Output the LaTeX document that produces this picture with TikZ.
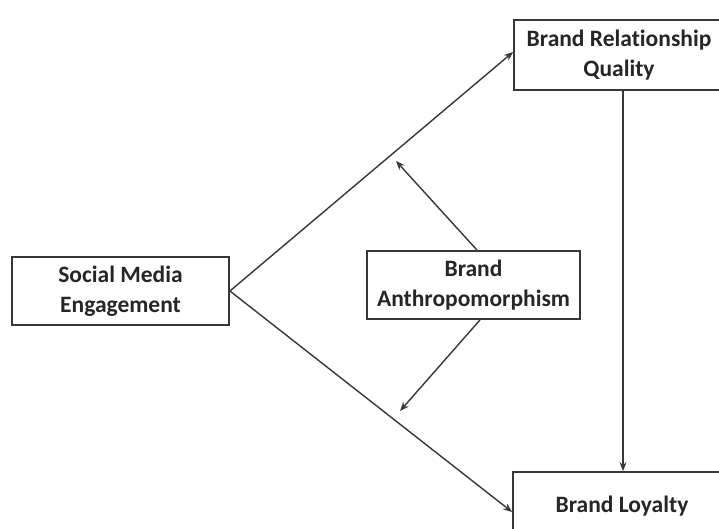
\documentclass[tikz,border=0pt]{standalone}
\usepackage{fontspec}
\setmainfont{Carlito}[Ligatures=NoCommon]
\usepackage{xcolor}
\usepackage{tikz}
\usetikzlibrary{arrows.meta}

\definecolor{inkgray}{RGB}{55,55,55}
\tikzset{
  varbox/.style={draw=inkgray, line width=1.8pt, fill=white, align=center, font=\bfseries\fontsize{23.5}{30.5}\selectfont, text=black!85, inner sep=0pt},
  link/.style={draw=inkgray, line width=1.4pt, -{Stealth[length=9pt,width=7pt]}}
}

\begin{document}
\begin{tikzpicture}[x=1pt,y=-1pt]
\useasboundingbox (0,0) rectangle (719,529);
\node[varbox, minimum width=217pt, minimum height=68pt] (sme) at (120.5,291) {Social Media\\Engagement};
\node[varbox, minimum width=213pt, minimum height=68pt] (anthro) at (473.5,285) {Brand\\Anthropomorphism};
\node[varbox, minimum width=210pt, minimum height=70pt] (quality) at (619,55) {Brand Relationship\\Quality};
\node[varbox, minimum width=218pt, minimum height=68pt] (loyalty) at (622,506) {Brand Loyalty};
\coordinate (upper) at (396,161);
\coordinate (lower) at (400,411);
\draw[link] (sme.east) -- ([yshift=3pt]quality.west);
\draw[link] (sme.east) -- ([yshift=-6pt]loyalty.west);
\draw[link] (quality.south -| 623,0) -- (loyalty.north -| 623,0);
\draw[link] (anthro.north -| 477,0) -- (upper);
\draw[link] (anthro.south -| 480,0) -- (lower);
\end{tikzpicture}
\end{document}
